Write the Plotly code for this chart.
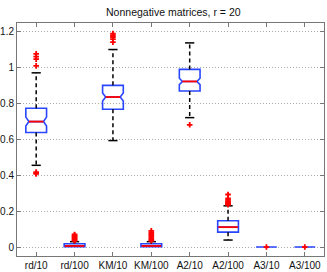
import plotly.graph_objects as go

categories = ["rd/10", "rd/100", "KM/10", "KM/100", "A2/10", "A2/100", "A3/10", "A3/100"]
q1 = [0.639, 0.002, 0.769, 0.002, 0.871, 0.083, 0.0, 0.0]
median = [0.700, 0.006, 0.837, 0.006, 0.924, 0.111, 0.0, 0.0]
q3 = [0.774, 0.018, 0.902, 0.018, 0.991, 0.147, 0.0, 0.0]
lower_whisker = [0.456, 0.0, 0.594, 0.0, 0.722, 0.039, 0.0, 0.0]
upper_whisker = [0.972, 0.030, 1.102, 0.030, 1.139, 0.230, 0.0, 0.0]
notch_span = [0.025, 0.0, 0.023, 0.0, 0.018, 0.0, 0.0, 0.0]
outliers = [
    [1.078, 1.062, 1.048, 1.011, 0.418, 0.412, 0.408],
    [0.035, 0.040, 0.045, 0.050, 0.055, 0.060, 0.065, 0.070],
    [1.191, 1.182, 1.172, 1.160, 1.143],
    [0.035, 0.042, 0.050, 0.058, 0.066, 0.074, 0.082, 0.090],
    [0.682],
    [0.293, 0.272, 0.263, 0.256, 0.250, 0.245, 0.240, 0.236],
    [0.0],
    [0.0],
]
y_ticks = [0, 0.2, 0.4, 0.6, 0.8, 1.0, 1.2]
y_ticktext = ["0", "0.2", "0.4", "0.6", "0.8", "1", "1.2"]

BOX_W = 0.54
CAP_HALF = 0.12
fig = go.Figure()

for i in range(len(categories)):
    notched = notch_span[i] > 0
    kw = dict(notched=True, notchspan=[notch_span[i]], notchwidth=0.15) if notched else {}
    fig.add_trace(go.Box(
        x=[i], q1=[q1[i]], median=[median[i]], q3=[q3[i]],
        lowerfence=[q1[i]], upperfence=[q3[i]],
        width=BOX_W, line=dict(color="#2846ff", width=1.6),
        fillcolor="rgba(0,0,0,0)", boxpoints=False, showlegend=False,
        hoverinfo="skip", **kw))

# whiskers (dashed)
wx, wy = [], []
cx, cy = [], []
for i in range(len(categories)):
    if upper_whisker[i] > q3[i]:
        wx += [i, i, None]; wy += [q3[i], upper_whisker[i], None]
        cx += [i - CAP_HALF, i + CAP_HALF, None]; cy += [upper_whisker[i]] * 2 + [None]
    if lower_whisker[i] < q1[i] - 0.005:
        wx += [i, i, None]; wy += [q1[i], lower_whisker[i], None]
        cx += [i - CAP_HALF, i + CAP_HALF, None]; cy += [lower_whisker[i]] * 2 + [None]
fig.add_trace(go.Scatter(x=wx, y=wy, mode="lines", line=dict(color="black", width=1.5, dash="4px,3px"),
                         showlegend=False, hoverinfo="skip"))
fig.add_trace(go.Scatter(x=cx, y=cy, mode="lines", line=dict(color="black", width=1.5),
                         showlegend=False, hoverinfo="skip"))

# medians (red)
mx, my = [], []
for i in range(len(categories)):
    half = BOX_W / 2 * (0.7 if notch_span[i] > 0 else 0.95)
    if q3[i] == q1[i]:
        half = BOX_W / 2 * 0.2
    mx += [i - half, i + half, None]; my += [median[i]] * 2 + [None]
fig.add_trace(go.Scatter(x=mx, y=my, mode="lines", line=dict(color="red", width=1.8),
                         showlegend=False, hoverinfo="skip"))

# outliers
ox, oy = [], []
for i, vals in enumerate(outliers):
    ox += [i] * len(vals); oy += vals
fig.add_trace(go.Scatter(x=ox, y=oy, mode="markers",
                         marker=dict(symbol="cross-thin", size=4, line=dict(color="red", width=1.8)),
                         showlegend=False, hoverinfo="skip"))

axis_common = dict(showline=True, linecolor="#777", linewidth=1, mirror="ticks",
                   ticks="inside", ticklen=4, tickcolor="#777", zeroline=False, automargin=False,
                   tickfont=dict(family="Liberation Sans, Arial", size=10, color="#111"))
fig.update_layout(
    width=327, height=272,
    margin=dict(l=17, r=3, t=23, b=16),
    paper_bgcolor="white", plot_bgcolor="white",
    title=dict(text="Nonnegative matrices, r = 20", x=0.53, xanchor="center", y=0.955, yanchor="middle",
               font=dict(family="Liberation Sans, Arial", size=10.5, color="#111")),
    xaxis=dict(range=[-0.5, 7.5], tickvals=list(range(len(categories))), ticktext=categories,
               showgrid=False, **axis_common),
    yaxis=dict(range=[-0.05, 1.25], tickvals=y_ticks, ticktext=y_ticktext,
               showgrid=True, gridcolor="#aaa", griddash="1px,2px", gridwidth=1, **axis_common),
)
fig.write_html("out.html", config={"displayModeBar": False},
               post_script="document.body.style.margin='0';document.body.style.overflow='hidden';")
